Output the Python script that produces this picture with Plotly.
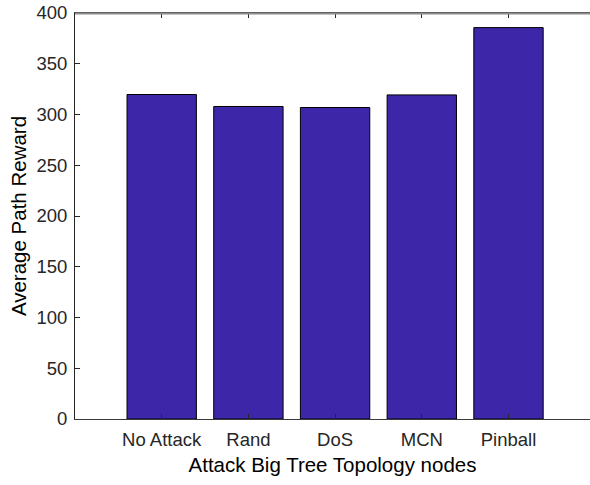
import plotly.graph_objects as go

categories = ["No Attack", "Rand", "DoS", "MCN", "Pinball"]
positions = [1, 2, 3, 4, 5]
rewards = [319.7, 307.9, 306.9, 319.3, 385.6]
y_ticks = [0, 50, 100, 150, 200, 250, 300, 350, 400]

fig = go.Figure()
fig.add_trace(go.Bar(
    x=positions, y=rewards, width=0.8,
    marker=dict(color="rgb(62,38,168)", line=dict(color="black", width=1)),
    showlegend=False, hoverinfo="x+y",
))

font = "Liberation Sans, Arial, Helvetica, sans-serif"
XR = [0, 5.94]
fig.update_layout(
    width=590, height=485,
    margin=dict(l=75, r=0, t=13, b=66, autoexpand=False),
    plot_bgcolor="white", paper_bgcolor="white",
    font=dict(family=font, color="#262626"),
    xaxis=dict(
        range=XR, tickvals=positions, ticktext=categories,
        ticks="inside", ticklen=5, tickcolor="#262626",
        showline=True, linecolor="#3a3a3a", linewidth=1, mirror="ticks",
        showgrid=False, zeroline=False, automargin=False,
        tickfont=dict(size=18.5, color="#262626"),
        ticklabelstandoff=4,
        title=dict(text="Attack Big Tree Topology nodes", font=dict(size=20.5, color="black"), standoff=8),
    ),
    yaxis=dict(
        range=[0, 400], tickvals=y_ticks,
        ticks="inside", ticklen=5, tickcolor="#262626",
        showline=True, linecolor="#262626", linewidth=1,
        showgrid=False, zeroline=False, automargin=False,
        tickfont=dict(size=18.5, color="#262626"),
        ticklabelstandoff=3, ticklabeloverflow="allow",
        title=dict(text="Average Path Reward", font=dict(size=20.5, color="black"), standoff=4),
    ),
    shapes=[dict(type="line", xref="paper", yref="paper", x0=0, x1=1, y0=0.999, y1=0.999,
                 line=dict(color="#8c8c8c", width=2), layer="above")],
)

fig.write_html("out.html", config={"displayModeBar": False},
               post_script="document.body.style.margin='0';")
